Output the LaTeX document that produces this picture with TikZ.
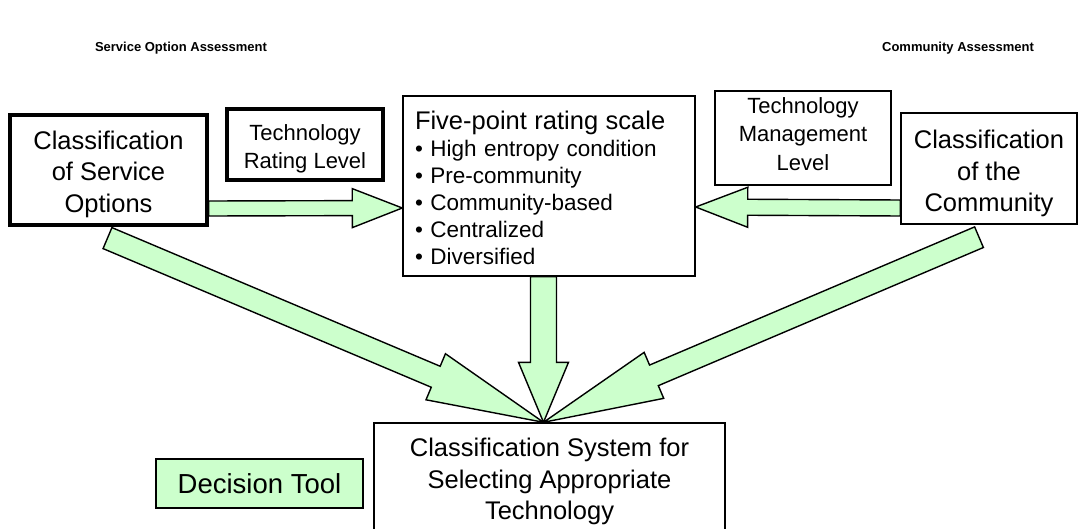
\documentclass[tikz,border=0pt]{standalone}
\usepackage{fontspec}
\setmainfont{Liberation Sans}
\usetikzlibrary{calc,backgrounds}
\definecolor{lgreen}{HTML}{CCFFCC}
\newcommand\fatarrow[5]{%
  \path ($(#2)!#5!(#1)$) coordinate (hb);
  \draw[fat] ($(#1)!#3!90:(#2)$) -- ($(hb)!#3!-90:(#1)$) -- ($(hb)!#4!-90:(#1)$) -- (#2)
    -- ($(hb)!#4!90:(#1)$) -- ($(hb)!#3!90:(#1)$) -- ($(#1)!#3!-90:(#2)$) -- cycle;
}
\begin{document}
\begin{tikzpicture}[x=1pt,y=-1pt,
  thinbox/.style={draw=black,line width=1.4pt,fill=white,inner sep=0pt,align=center},
  thickbox/.style={thinbox,line width=3.2pt},
  txt/.style={inner sep=0pt,align=center},
  big/.style={font=\fontsize{25.5}{31.5}\selectfont},
  mid/.style={font=\fontsize{22}{28.5}\selectfont},
  fat/.style={draw=black,line width=1.4pt,fill=lgreen,line join=miter},
  title/.style={font=\bfseries\fontsize{13}{15}\selectfont}]
\useasboundingbox (0,0) rectangle (1079,529);
\clip (0,0) rectangle (1079,529);
\node[title] (t1) at (181,48) {Service Option Assessment};
\node[title] (t2) at (958,48) {Community Assessment};
% boxes
\node[thickbox,minimum width=197pt,minimum height=110pt] (svc) at (108.5,170) {};
\node[thickbox,minimum width=156pt,minimum height=71pt] (rate) at (305,144.5) {};
\node[thinbox,minimum width=292pt,minimum height=180pt] (five) at (549,186) {};
\node[thinbox,minimum width=176pt,minimum height=94pt] (mgmt) at (803,138) {};
\node[thinbox,minimum width=176pt,minimum height=111pt] (comm) at (989,168.5) {};
\node[thinbox,minimum width=351pt,minimum height=110pt] (main) at (549.5,478) {};
\node[thinbox,fill=lgreen,minimum width=207pt,minimum height=49pt] (dec) at (259.5,483.5) {};
% texts
\node[txt,big] (svcT) at ([yshift=-4pt]svc.center) {Classification\\of Service\\Options};
\node[txt,mid] (rateT) at ([yshift=-4.5pt]rate.center) {Technology\\Rating Level};
\node[txt,align=left,text width=268pt,font=\fontsize{22.5}{27}\selectfont] (fiveT) at ([yshift=-2pt]five.center)
  {{\fontsize{25.5}{27}\selectfont Five-point rating scale}\\
   • High entropy condition\\
   • Pre-community\\
   • Community-based\\
   • Centralized\\
   • Diversified};
\node[txt,mid] (mgmtT) at ([yshift=4pt]mgmt.center) {Technology\\Management\\Level};
\node[txt,big] (commT) at ([yshift=-5pt]comm.center) {Classification\\of the\\Community};
\node[txt,big] (mainT) at ([yshift=-3.5pt]main.center) {Classification System for\\Selecting Appropriate\\Technology};
\node[txt,font=\fontsize{27.5}{32}\selectfont] (decT) at (dec.center) {Decision Tool};
% connectors
\coordinate (hlT) at ([yshift=-38.5pt]svc.east);
\coordinate (hlP) at ([yshift=-22pt]five.west);
\coordinate (hrT) at ([yshift=-39.5pt]comm.west);
\coordinate (hrP) at ([yshift=-21pt]five.east);
\coordinate (vT) at ([xshift=-5.5pt]five.south);
\coordinate (vP) at ([xshift=-6pt]main.north);
\coordinate (ldT) at ([xshift=-1pt,yshift=-11.5pt]svc.south);
\coordinate (rdT) at ([xshift=-10pt,yshift=-12.5pt]comm.south);
\begin{scope}[on background layer]
\fatarrow{hlT}{hlP}{7.5pt}{19.5pt}{50pt}
\fatarrow{hrT}{hrP}{8pt}{20pt}{52pt}
\fatarrow{vT}{vP}{13pt}{25pt}{60pt}
\fatarrow{ldT}{vP}{11.4pt}{25pt}{117pt}
\fatarrow{rdT}{vP}{11.2pt}{25pt}{120pt}
\end{scope}
\end{tikzpicture}
\end{document}
